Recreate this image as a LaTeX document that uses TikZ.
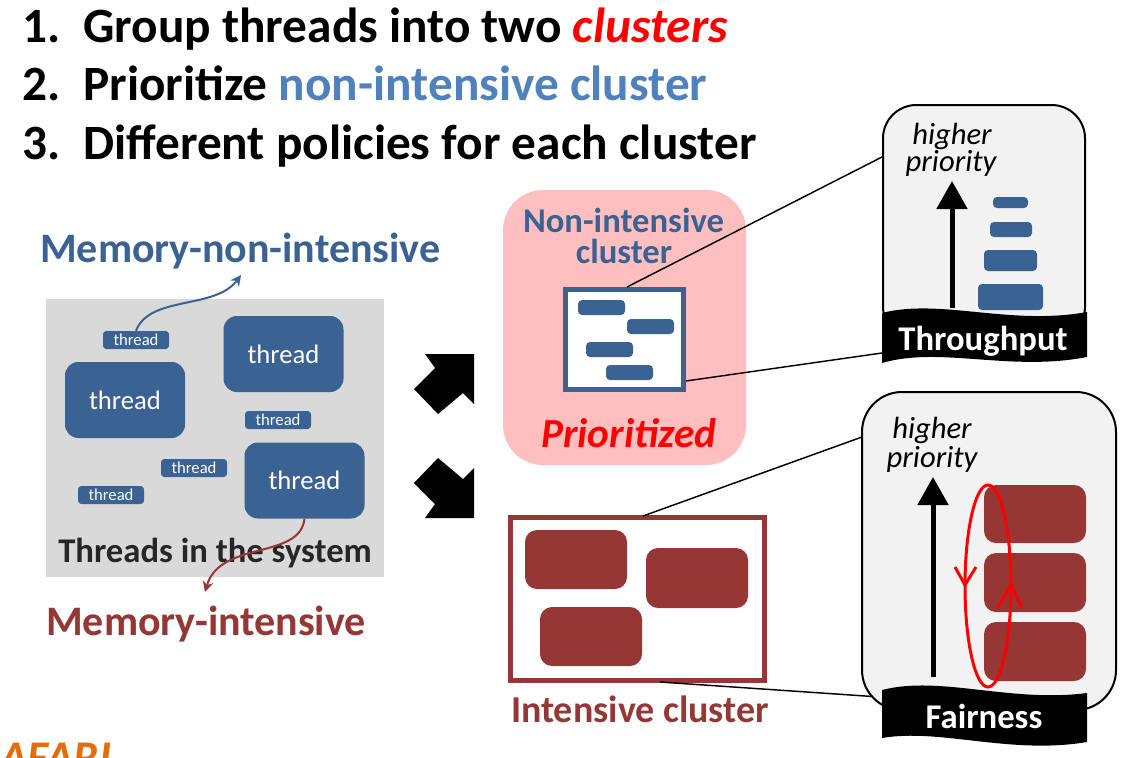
\documentclass[tikz,border=0pt]{standalone}
\usepackage{fontspec}
\setmainfont{Carlito}
\usetikzlibrary{arrows.meta,positioning}
\definecolor{thrblue}{HTML}{3A6292}
\definecolor{litblue}{HTML}{4F81BD}
\definecolor{thrbrown}{HTML}{953735}
\definecolor{clpink}{HTML}{FFBFBF}
\definecolor{sysgray}{HTML}{D9D9D9}
\definecolor{pangray}{HTML}{F2F2F2}
\definecolor{safari}{HTML}{E46C0A}
\newcommand\fsz[2]{\fontsize{#1pt}{#2pt}\selectfont}
\tikzset{
  txt/.style={inner sep=0pt, anchor=base west},
  ctxt/.style={inner sep=0pt, anchor=base},
  bigthread/.style={fill=thrblue, text=white, rounded corners=10pt, minimum width=90pt, minimum height=57pt, font=\fsz{20}{24}},
  smallthread/.style={fill=thrblue, text=white, rounded corners=2.5pt, minimum width=49.5pt, minimum height=13.5pt, inner sep=0pt, font=\fsz{12.5}{14}},
  bar/.style={fill=thrblue, rounded corners=3pt},
  blk/.style={fill=thrbrown, rounded corners=9pt},
  panel/.style={fill=pangray, draw=black, line width=1.5pt, rounded corners=25pt},
  banner/.style={inner sep=0pt, anchor=base, text=white, font=\bfseries\fsz{26}{30}},
  link/.style={line width=1.1pt},
  prio/.style={line width=3.75pt, -{Triangle[width=22.5pt,length=21pt]}},
  curly/.style={line width=1.5pt, -{Stealth[width=8pt,length=8pt]}},
}
\begin{document}
\begin{tikzpicture}[x=0.75pt,y=-0.75pt]
\useasboundingbox (0,0) rectangle (1131,757);
\clip (0,0) rectangle (1131,757);
% the three steps
\begin{scope}[every node/.style={txt, font=\bfseries\fsz{37}{40}}]
\node (n1) at (22,42) {1.};
\node (t1) at (83,42) {Group threads into two \textcolor{red}{\textit{clusters}}};
\node (n2) at (22,100) {2.};
\node (t2) at (83,100) {Prioritize \textcolor{litblue}{non-intensive cluster}};
\node (n3) at (22,159) {3.};
\node (t3) at (83,159) {Different policies for each cluster};
\end{scope}
% threads in the system
\fill [sysgray] (46,299) rectangle (384,577);
\node [bigthread] (bt1) at (125,400) {thread};
\node [bigthread] (bt2) at (283.5,354) {thread};
\node [bigthread] (bt3) at (304.5,480.5) {thread};
\node [smallthread] (st1) at (136,340) {thread};
\node [smallthread] (st2) at (278,420) {thread};
\node [smallthread] (st3) at (194,468) {thread};
\node [smallthread] (st4) at (111,495) {thread};
\node [txt, text=black!85, font=\bfseries\fsz{26}{30}] (sys) at (58,562) {Threads in the system};
\node [txt, text=thrblue, font=\bfseries\fsz{31.5}{34}] (mni) at (40,262) {Memory-non-intensive};
\node [txt, text=thrbrown, font=\bfseries\fsz{31.5}{34}] (mi) at (46,635) {Memory-intensive};
\coordinate (mniend) at (241,275);
\coordinate (miend) at (205,592);
\draw [curly, draw=thrblue] (st1.north) .. controls (150,295) and (215,310) .. (mniend);
\draw [curly, draw=thrbrown] (bt3.south) .. controls (300,560) and (220,540) .. (miend);
% block arrows
\fill (425,354) -- (474,354) -- (474,404) -- (463,393) -- (438,414) -- (414,389) -- (435,368) -- cycle;
\fill (425,518) -- (474,518) -- (474,468) -- (463,479) -- (438,458) -- (414,483) -- (435,504) -- cycle;
% non-intensive cluster
\fill [clpink, rounded corners=30pt] (503,190) rectangle (746,465);
\node [ctxt, text=thrblue, font=\bfseries\fsz{26}{30}] (nil1) at (623.5,232) {Non-intensive};
\node [ctxt, text=thrblue, font=\bfseries\fsz{26}{30}] (nil2) at (624,263) {cluster};
\draw [draw=thrblue, fill=white, line width=3.75pt] (565.5,289.5) rectangle (683.5,389.5);
\fill [bar] (578,300) rectangle (625,315);
\fill [bar] (627,319) rectangle (674,334);
\fill [bar] (586,342) rectangle (633,357);
\fill [bar] (606,365) rectangle (653,380);
\node [ctxt, text=red, font=\bfseries\itshape\fsz{31}{34}] (prio) at (629,447) {Prioritized};
% intensive cluster
\draw [draw=thrbrown, fill=white, line width=3.75pt] (510.5,517.5) rectangle (764.5,680.5);
\fill [blk] (525,530) rectangle (627,589);
\fill [blk] (646,548) rectangle (748,608);
\fill [blk] (540,607) rectangle (642,666);
\node [ctxt, text=thrbrown, font=\bfseries\fsz{28.5}{32}] (icl) at (640,722) {Intensive cluster};
% links to the policies
\coordinate (tpa) at (882,157);
\coordinate (tpb) at (882,353);
\coordinate (fpa) at (862,437);
\coordinate (fpb) at (880,697);
\draw [link] (627,287) -- (tpa);
\draw [link] (686,381) -- (tpb);
\draw [link] (643,516) -- (fpa);
\draw [link] (660,682) -- (fpb);
% throughput panel
\draw [panel] (883,105) rectangle (1085,340);
\node [ctxt, font=\itshape\fsz{23}{26}] (hp1) at (952,144) {higher};
\node [ctxt, font=\itshape\fsz{23}{26}] (hp2) at (951,171) {priority};
\draw [prio] (952,308) -- (952,181);
\fill [bar] (993,197) rectangle (1028,208);
\fill [bar] (990,222) rectangle (1032,237);
\fill [bar] (984,250) rectangle (1037,271);
\fill [bar] (978,284) rectangle (1043,310);
\fill (882,313) .. controls (940,298) and (1010,326) .. (1087,312) -- (1087,357)
  .. controls (1010,372) and (940,346) .. (882,363) -- cycle;
\node [banner] (thr) at (983,350) {Throughput};
% fairness panel
\draw [panel, rounded corners=30pt] (862,392) rectangle (1116,710);
\node [ctxt, font=\itshape\fsz{23}{26}] (hq1) at (932,438) {higher};
\node [ctxt, font=\itshape\fsz{23}{26}] (hq2) at (932,467) {priority};
\draw [prio] (933,677) -- (933,477);
\fill [blk] (984,485) rectangle (1086,543);
\fill [blk] (984,553) rectangle (1086,612);
\fill [blk] (984,622) rectangle (1086,681);
\draw [red, line width=2.25pt] (988,586) ellipse [x radius=23, y radius=101];
\draw [red, line width=2.25pt] (955,567) -- (965,585) -- (976,567);
\draw [red, line width=2.25pt] (998,607) -- (1011,585) -- (1022,607);
\fill (882,690) .. controls (940,675) and (1010,703) .. (1087,693) -- (1087,742)
  .. controls (1010,755) and (940,728) .. (882,738) -- cycle;
\node [banner] (fair) at (984,728) {Fairness};
% logo
\node [txt, text=safari, font=\bfseries\itshape\fsz{34}{38}] (logo) at (-21,772) {SAFARI};
\end{tikzpicture}
\end{document}
